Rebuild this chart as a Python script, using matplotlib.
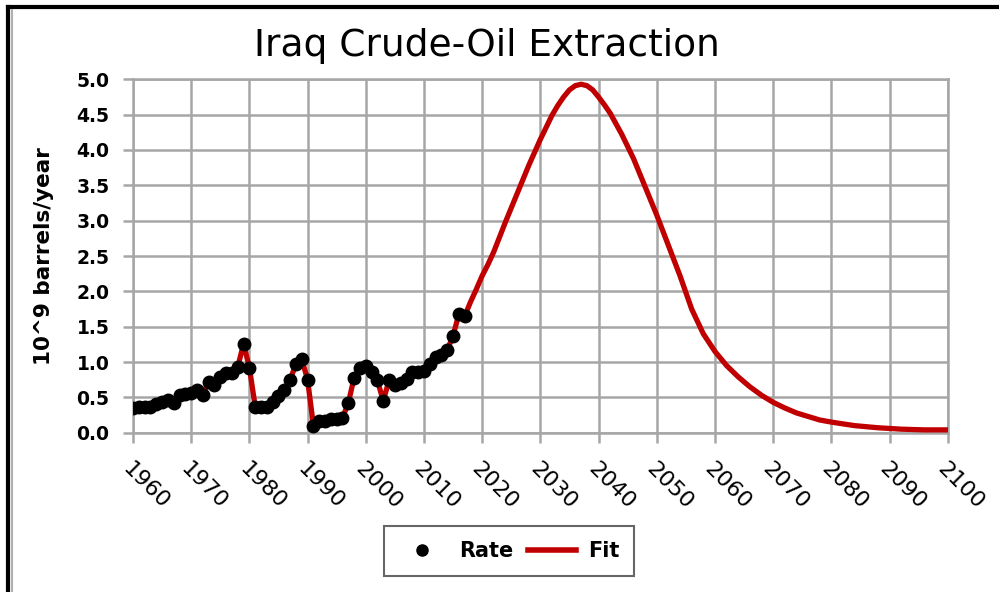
import matplotlib

matplotlib.use("Agg")
import matplotlib.pyplot as plt
from matplotlib.lines import Line2D

DPI = 100
W, H = 999, 592

RED = "#c00000"
GRID = "#a6a6a6"
INK = "#000000"

# historical extraction rate, 10^9 barrels/year
rate_years = list(range(1960, 2018))
rate_values = [
    0.35, 0.36, 0.36, 0.37, 0.40, 0.44, 0.46, 0.42, 0.54, 0.55,
    0.56, 0.61, 0.54, 0.72, 0.68, 0.79, 0.85, 0.85, 0.93, 1.26,
    0.92, 0.37, 0.37, 0.36, 0.44, 0.52, 0.61, 0.75, 0.97, 1.04,
    0.75, 0.10, 0.16, 0.17, 0.20, 0.20, 0.21, 0.42, 0.78, 0.91,
    0.94, 0.86, 0.74, 0.45, 0.74, 0.68, 0.71, 0.76, 0.86, 0.86,
    0.88, 0.97, 1.07, 1.10, 1.17, 1.37, 1.68, 1.65,
]

# projected fit beyond the data
proj_years = [2018, 2019, 2020, 2021, 2022, 2024, 2026, 2028, 2030, 2032,
              2033, 2034, 2035, 2036, 2037, 2038, 2039, 2040, 2041, 2042,
              2043, 2044, 2046, 2048, 2050, 2052, 2054, 2056, 2058, 2060,
              2062, 2064, 2066, 2068, 2070, 2072, 2074, 2076, 2078, 2080,
              2084, 2088, 2092, 2096, 2100]
proj_values = [1.85, 2.03, 2.22, 2.38, 2.56, 2.98, 3.38, 3.78, 4.15, 4.49,
               4.63, 4.75, 4.85, 4.91, 4.93, 4.91, 4.85, 4.75, 4.64, 4.52,
               4.37, 4.22, 3.88, 3.48, 3.08, 2.65, 2.22, 1.75, 1.40, 1.15,
               0.95, 0.79, 0.65, 0.53, 0.43, 0.35, 0.28, 0.23, 0.18, 0.15,
               0.10, 0.07, 0.05, 0.04, 0.04]

fit_years = rate_years + proj_years
fit_values = rate_values + proj_values

x_ticks = list(range(1960, 2101, 10))
y_ticks = [i * 0.5 for i in range(11)]

fig = plt.figure(figsize=(W / DPI, H / DPI), dpi=DPI)
ax = fig.add_axes([133 / W, 1 - 432.7 / H, (947.7 - 133) / W, (432.7 - 79.3) / H])

ax.plot(fit_years, fit_values, color=RED, lw=3.8, solid_capstyle="round",
        solid_joinstyle="round", zorder=3)
ax.plot(rate_years, rate_values, "o", color=INK, ms=9, zorder=4)

ax.set_xlim(1960, 2100)
ax.set_ylim(0, 5)
ax.set_xticks(x_ticks)
ax.set_yticks(y_ticks)
ax.set_yticklabels([f"{v:.1f}" for v in y_ticks], fontsize=13.5, fontweight="bold")
ax.set_xticklabels([str(v) for v in x_ticks], fontsize=16, rotation=-45,
                   ha="left", va="top", rotation_mode="anchor")
ax.grid(True, color=GRID, lw=1.8)
ax.set_axisbelow(True)
for s in ax.spines.values():
    s.set_color(GRID)
    s.set_linewidth(1.8)
ax.tick_params(length=7, width=1.8, color=GRID)
ax.tick_params(axis="y", pad=10)
ax.tick_params(axis="x", pad=12)

ax.set_ylabel("10^9 barrels/year", fontsize=15.5, fontweight="bold", labelpad=16)
fig.text(0.487, 1 - 46 / H, "Iraq Crude-Oil Extraction", fontsize=27,
         ha="center", va="center")

handles = [
    Line2D([], [], marker="o", color=INK, ls="none", ms=8),
    Line2D([], [], color=RED, lw=4),
]
leg = fig.legend(handles, ["Rate", "Fit"], loc="center", ncol=2,
                 bbox_to_anchor=(509 / W, 1 - 551 / H), frameon=True,
                 fancybox=False, prop={"size": 15, "weight": "bold"},
                 handlelength=2.3, handletextpad=0.6, columnspacing=0.7,
                 borderpad=0.7)
leg.get_frame().set_edgecolor("#404040")
leg.get_frame().set_linewidth(1.5)

# chart frame
fig.add_artist(Line2D([8 / W, 1], [1 - 7 / H, 1 - 7 / H], color="black", lw=3,
                      transform=fig.transFigure))
fig.add_artist(Line2D([8 / W, 8 / W], [0, 1 - 7 / H], color="black", lw=3,
                      transform=fig.transFigure))
fig.add_artist(Line2D([11.5 / W, 11.5 / W], [0, 1 - 10 / H], color="#b0b0b0", lw=1.5,
                      transform=fig.transFigure))

fig.savefig("out.png", dpi=DPI, facecolor="white")
